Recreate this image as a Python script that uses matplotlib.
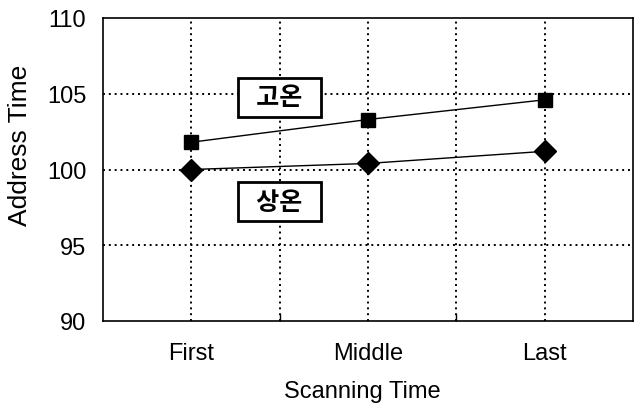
import matplotlib
matplotlib.use("Agg")
import matplotlib.pyplot as plt
from matplotlib.ticker import FixedLocator

categories = ["First", "Middle", "Last"]
high_temp = [101.8, 103.3, 104.6]   # 고온
room_temp = [100.0, 100.4, 101.2]   # 상온
yticks = [90, 95, 100, 105, 110]

plt.rcParams['font.family'] = ['Liberation Sans', 'Noto Sans CJK KR', 'DejaVu Sans']

fig = plt.figure(figsize=(6.43, 4.10), dpi=100)
ax = fig.add_axes([103/643, 1-322/410, 530/643, 303/410])

x = list(range(len(categories)))
ax.plot(x, high_temp, color='black', lw=1.0, marker='s', ms=10, zorder=3)
ax.plot(x, room_temp, color='black', lw=1.0, marker='D', ms=11, zorder=3)

ax.set_xlim(-0.5, len(categories) - 0.5)
ax.set_ylim(90, 110)
ax.set_yticks(yticks)
ax.set_yticklabels([str(v) for v in yticks], fontsize=17)
ax.set_xticks(x)
ax.set_xticklabels(categories, fontsize=17)
ax.tick_params(axis='x', length=0, pad=15)
ax.tick_params(axis='y', length=0, pad=12)

# minor ticks at category boundaries (inward)
ax.xaxis.set_minor_locator(FixedLocator([0.5, 1.5]))
ax.tick_params(axis='x', which='minor', direction='in', length=5, width=1)

# dotted grid at categories and boundaries
for gx in [0, 0.5, 1, 1.5, 2]:
    ax.axvline(gx, color='black', ls=(0, (1, 2)), lw=1.4, zorder=1)
for gy in [95, 100, 105]:
    ax.axhline(gy, color='black', ls=(0, (1, 2)), lw=1.4, zorder=1)

for s in ax.spines.values():
    s.set_linewidth(1.2)

ax.set_xlabel("Scanning Time", fontsize=17)
ax.set_ylabel("Address Time", fontsize=19)
ax.xaxis.set_label_coords(0.49, -0.195)
ax.yaxis.set_label_coords(-0.134, 0.584)

for yv, label in [(104.77, "고온"), (97.88, "상온")]:
    ax.text(0.5, yv, "  " + label + "  ", ha='center', va='center', fontsize=18,
            fontweight='bold', family=['Noto Sans CJK KR'],
            bbox=dict(boxstyle='square,pad=0.3', fc='white', ec='black', lw=2.0),
            zorder=4)

fig.savefig("out.png", dpi=100)
